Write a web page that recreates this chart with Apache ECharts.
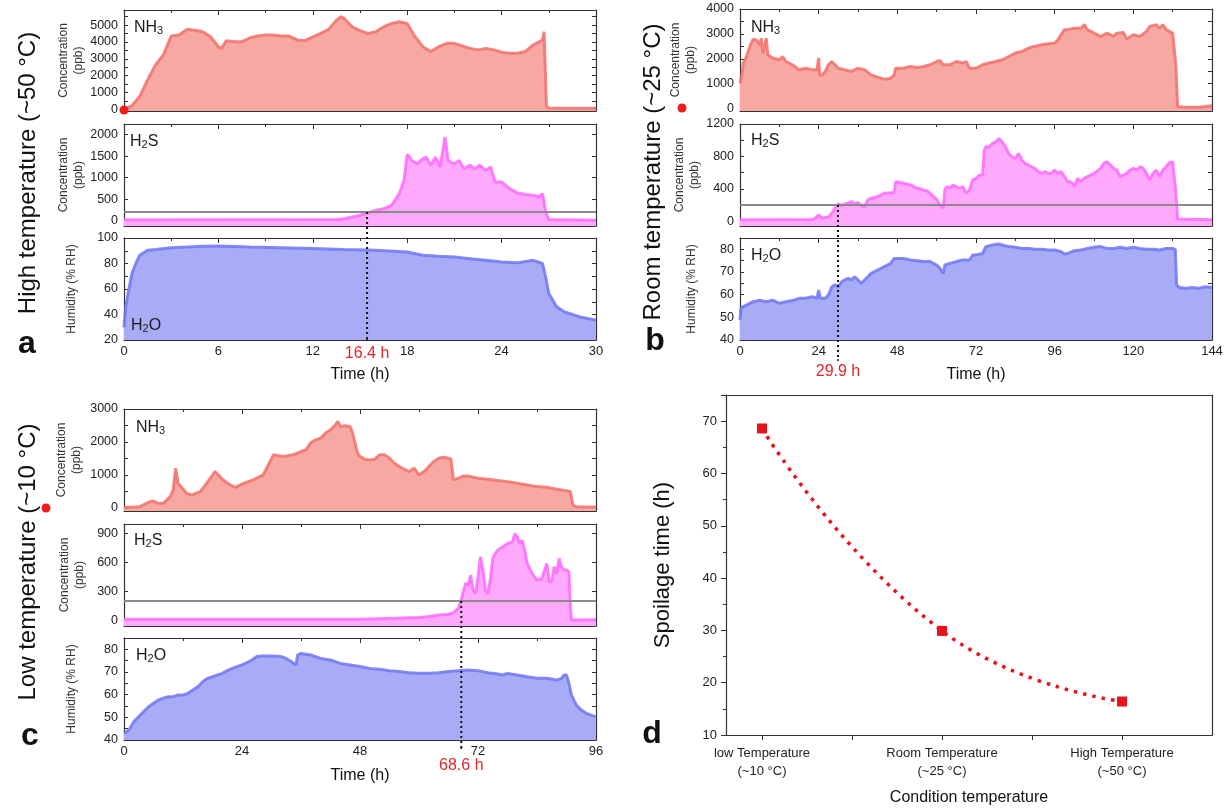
<!DOCTYPE html>
<html>
<head>
<meta charset="utf-8">
<script src="https://cdn.jsdelivr.net/npm/echarts@6/dist/echarts.min.js"></script>
<style>
  html, body { margin: 0; padding: 0; background: #fff; }
  #chart { width: 1228px; height: 810px; }
</style>
</head>
<body>
<div id="chart"></div>
<script>
// ---- a: high temperature, [time h, value] ----
const aNH3 = [[0,0],[0.5,216],[1,770],[1.5,1750],[2,2640],[2.5,3230],[3,4350],[3.5,4410],[4,4750],[4.5,4700],[5,4610],[5.5,4310],[6,3720],[6.2,3620],[6.5,4080],[7,4020],[7.5,4020],[8,4250],[8.5,4350],[9,4410],[9.5,4410],[10,4350],[10.5,4350],[11,4120],[11.5,4080],[12,4310],[12.5,4510],[13,4750],[13.5,5300],[13.8,5500],[14,5400],[14.5,4900],[15,4670],[15.5,4510],[16,4610],[16.5,4900],[17,5100],[17.5,5200],[18,5100],[18.5,4310],[19,3720],[19.5,3430],[20,3720],[20.5,3920],[21,3920],[21.5,3760],[22,3620],[22.5,3530],[23,3620],[23.5,3530],[24,3390],[24.5,3330],[25,3330],[25.5,3430],[26,3820],[26.4,4020],[26.6,4120],[26.7,4610],[26.85,180],[27,80],[28,60],[29,60],[30,70]];
const aH2S = [[0,20],[13.5,25],[14,45],[14.5,85],[15,125],[15.5,180],[16,240],[16.5,280],[17,355],[17.5,630],[17.8,940],[18,1540],[18.3,1400],[18.6,1325],[19,1440],[19.2,1480],[19.5,1290],[19.8,1480],[20.1,1250],[20.4,1945],[20.6,1400],[21,1325],[21.3,1400],[21.6,1210],[22,1290],[22.3,1210],[22.6,1290],[23,1170],[23.3,1250],[23.6,900],[24,900],[24.5,745],[25,645],[25.5,610],[26,590],[26.4,550],[26.6,630],[26.8,200],[27,25],[30,10]];
const aH2O = [[0,30],[0.1,45],[0.25,56],[0.5,72],[0.75,80],[1,86.5],[1.5,90.4],[2,91],[3,92.4],[4,93],[5,93.5],[6,93.7],[8,93],[10,92.4],[12,91.7],[14,91],[16,90.4],[18,89],[19,86.5],[20,85.7],[21,85.1],[22,83.8],[23,82.5],[24,81.2],[25,80.5],[26,82.5],[26.6,80],[26.8,69.5],[27,56.5],[27.5,46],[28,42],[29,38],[30,35.6]];

// ---- b: room temperature ----
const bNH3 = [[0,1020],[0.5,1290],[1,1825],[2,2090],[3,2500],[4,2790],[5,2760],[6,2560],[6.5,2830],[7,2230],[8,2830],[8.5,2160],[10,2030],[12,1960],[13,2090],[14,1890],[16,1760],[18,1560],[20,1620],[22,1560],[23.5,1560],[24,2030],[24.3,1350],[25,1350],[26,1490],[27,1760],[28,1890],[29,1760],[30,1620],[32,1560],[34,1490],[36,1620],[38,1560],[40,1350],[42,1260],[44,1180],[46,1220],[47,1350],[47.5,1620],[50,1620],[52,1690],[54,1650],[56,1690],[58,1760],[60,1890],[61,1930],[62,1760],[64,1760],[66,1890],[68,1830],[69,1890],[70,1620],[72,1620],[74,1760],[76,1830],[78,1890],[80,1960],[82,2090],[84,2230],[86,2290],[88,2430],[90,2500],[92,2560],[94,2600],[96,2630],[97,2760],[98,2970],[99,3170],[100,3170],[102,3230],[104,3230],[105,3370],[106,3170],[108,3030],[110,2900],[112,3030],[114,2900],[115,3030],[117,3060],[118,2790],[120,2970],[122,2900],[124,3100],[125,3300],[127,3370],[128,3230],[129,3370],[130,3170],[131,3100],[132,3030],[132.5,2970],[133,1690],[133.5,80],[136,50],[140,50],[144,110]];
const bH2S = [[0,16],[22,20],[23,37],[24,78],[25,37],[27,50],[28,98],[29,160],[30,213],[31,190],[32,213],[33,222],[34,242],[35,213],[36,230],[37,190],[38,180],[39,262],[40,283],[42,303],[44,344],[46,352],[47,352],[47.5,488],[48,488],[50,467],[52,447],[54,406],[56,385],[57,377],[58,344],[59,303],[60,270],[61,200],[62,160],[62.5,385],[63,426],[64,406],[65,447],[66,426],[67,406],[68,426],[69,344],[70,385],[71,508],[72,529],[73,570],[74,570],[74.5,877],[75,918],[76,918],[77,959],[78,980],[79,1020],[80,980],[81,918],[82,836],[83,795],[84,775],[85,836],[86,754],[87,713],[88,693],[89,672],[90,652],[91,611],[92,590],[93,611],[94,590],[95,590],[96,631],[97,590],[98,611],[99,549],[100,488],[101,488],[102,426],[103,529],[104,488],[105,529],[106,549],[108,590],[110,652],[111,713],[112,734],[113,693],[114,652],[115,631],[116,549],[117,570],[118,590],[119,631],[120,652],[121,631],[122,672],[123,652],[124,590],[125,508],[126,590],[127,631],[128,549],[129,631],[130,672],[131,722],[132,734],[132.5,713],[133,344],[133.5,25],[144,16]];
const bH2O = [[0,48.8],[0.3,54],[1,54.7],[2,55.4],[4,56.9],[6,57.5],[8,56.9],[10,57.6],[12,56.2],[14,56.9],[16,57.4],[18,58.4],[20,58.4],[22,59.1],[23.5,58.4],[24,62],[24.5,58.4],[26,58.4],[27,59.9],[28,63.5],[29,64.3],[30,63.5],[31,65.7],[32,66.5],[33,67.2],[34,66.5],[35,67.9],[36,66.5],[37,65],[38,66.5],[39,67.9],[40,69.4],[42,70.9],[44,72.4],[46,73.8],[47,76],[50,76],[52,75.3],[54,75],[56,74.6],[58,74.6],[60,73.1],[61,71.6],[62,69.4],[62.5,73.1],[64,73.8],[66,74.6],[68,75.3],[70,75.3],[71,77.5],[72,77.5],[74,78.2],[75,81.2],[77,81.9],[79,82.4],[80,81.9],[82,81.2],[84,80.9],[86,80.4],[88,80.4],[90,80],[92,80],[94,79.7],[96,79.7],[98,79],[99,77.9],[100,78.2],[102,79.4],[104,79.7],[106,80.4],[108,80.9],[110,81.2],[112,80.4],[114,80.4],[116,80.9],[118,80.4],[120,80.9],[122,80.4],[124,80],[126,80],[128,79.7],[130,80.4],[132,80.4],[132.8,80],[133.2,64.3],[134,63.2],[136,62.8],[138,63.2],[140,62.8],[142,63.5],[144,63.2]];

// ---- c: low temperature ----
const cNH3 = [[0,10],[3.2,30],[5.3,183],[6,203],[7,132],[8,132],[9.4,336],[10,539],[10.5,1200],[11,742],[12.7,437],[13.8,386],[15.5,488],[16.8,742],[18.5,1098],[18.8,1150],[20.2,844],[21.6,692],[22.6,620],[24.3,742],[26.3,844],[28.3,997],[29,1200],[30.4,1607],[32.4,1556],[34.4,1607],[36,1708],[37,1760],[38,1983],[39,2064],[40,2115],[41,2268],[42,2370],[43,2522],[43.5,2624],[44,2471],[45,2492],[46,2471],[46.5,2268],[47,1963],[47.5,1658],[48,1556],[49,1475],[50,1454],[51,1475],[52,1607],[53,1607],[54,1505],[55,1353],[56,1251],[57,1170],[58,1098],[59,1200],[60,997],[61,1098],[62,1251],[63,1403],[64,1505],[65,1536],[66,1505],[66.5,1475],[67,844],[68,895],[69,966],[70,966],[72,895],[74,864],[76,824],[78,793],[80,742],[82,692],[84,641],[86,620],[88,559],[90,519],[90.8,488],[91.3,81],[92,30],[96,20]];
const cH2S = [[0,10],[48,10],[50,14],[55,21],[60,28],[62,38],[64,55],[66,62],[67,79],[68,124],[68.6,210],[69,297],[69.5,383],[70,366],[70.5,469],[71,314],[71.5,279],[72,452],[72.5,659],[73,521],[73.5,314],[74,279],[74.5,417],[75,642],[75.5,693],[76,728],[77,762],[78,797],[79,814],[79.5,900],[80,866],[80.5,797],[81,831],[81.5,728],[82,590],[83,486],[84,417],[85,435],[86,590],[86.5,400],[87,400],[87.5,555],[88,486],[88.5,642],[89,555],[89.5,521],[90,521],[90.5,504],[90.8,141],[91,3],[96,5]];
const cH2O = [[0,43],[1,44.4],[2,48.1],[3,50.3],[4,52.5],[5,54.7],[6,56.2],[7,57.7],[8,58.4],[9,59.1],[10,59.1],[11,59.9],[12,59.9],[13,60.6],[14,62.1],[15,63.5],[16,65.7],[17,67.2],[18,67.9],[19,68.7],[20,69.4],[21,70.6],[22,71.6],[23,72.4],[24,73.1],[25,74.1],[26,75.3],[27,76.8],[28,77.1],[30,77.1],[32,76.8],[33,76],[34,74.6],[35,73.1],[35.3,77.5],[36,78.2],[38,77.5],[39,76.8],[40,76],[42,75.3],[44,73.8],[46,73.1],[48,72.4],[50,71.6],[52,71.2],[54,70.6],[56,70.2],[58,69.7],[60,69.4],[62,69.4],[64,69.7],[66,70.2],[68,70.6],[70,70.9],[72,70.6],[74,69.7],[76,69.1],[77,68.7],[78,69.4],[80,68.7],[82,67.9],[84,67.2],[86,67.2],[88,66.5],[89,67.2],[89.5,68.7],[90,68.7],[90.5,65],[91,59.9],[92,55.4],[93,53.2],[94,51.8],[95,51],[96,50.3]];

// ---- d: spoilage time ----
const dCats = ['low Temperature\n(~10 °C)', 'Room Temperature\n(~25 °C)', 'High Temperature\n(~50 °C)'];
const dPos = [1, 2, 3];
const dSpoil = [68.6, 29.9, 16.4];

// tick labels / tick positions
const aNH3Labels = [0,1000,2000,3000,4000,5000];
const aNH3Ticks = [0,500,1000,1500,2000,2500,3000,3500,4000,4500,5000,5500];
const aH2SLabels = [0,500,1000,1500,2000];
const aH2OLabels = [20,40,60,80,100];
const aH2OTicks = [20,30,40,50,60,70,80,90,100];
const bNH3Labels = [0,1000,2000,3000,4000];
const bNH3Ticks = [0,500,1000,1500,2000,2500,3000,3500,4000];
const bH2SLabels = [0,400,800,1200];
const bH2STicks = [0,200,400,600,800,1000,1200];
const humLabels = [40,50,60,70,80];
const humTicks = [40,45,50,55,60,65,70,75,80,85];
const cNH3Labels = [0,1000,2000,3000];
const cNH3Ticks = [0,500,1000,1500,2000,2500,3000];
const cH2SLabels = [0,300,600,900];

const THRESHOLD = 200;
const cutA = 15.45, cutB = 29.9, cutC = 68.6;

const FONT = '"Liberation Sans", Arial, sans-serif';
const AX = '#333';
const RED = '#e3262b';
const STYLE = {
  nh3: { line: 'rgba(242,112,106,0.85)', fill: '#f8a8a3' },
  h2s: { line: 'rgba(255,105,255,0.85)', fill: '#ffa9fd' },
  h2o: { line: 'rgba(112,118,242,0.85)', fill: '#a8acf7' }
};

const grid = [], xAxis = [], yAxis = [], series = [], title = [], graphic = [];
const plain = v => String(v);

function addPlot(p) {
  const gi = grid.length;
  grid.push({ left: p.left, top: p.top, width: p.width, height: p.height });
  const line = { onZero: false, lineStyle: { color: AX, width: 1.2 } };
  const tick = { inside: true, length: 5, lineStyle: { color: AX } };
  const xi = xAxis.length;
  const xBase = {
    gridIndex: gi, type: 'value', min: 0, max: p.xMax, interval: p.xStep,
    splitLine: { show: false }, axisLine: line, axisTick: tick,
    minorTick: { show: true, splitNumber: 2, length: 3, lineStyle: { color: AX } }
  };
  xAxis.push(Object.assign({}, xBase, {
    position: 'bottom',
    axisLabel: { show: !!p.showX, color: '#222', fontSize: 13, margin: 5, fontFamily: FONT, formatter: plain },
    name: p.showX ? 'Time (h)' : '', nameLocation: 'middle', nameGap: p.xGap || 27,
    nameTextStyle: { fontSize: 16, color: '#111', fontFamily: FONT }
  }));
  xAxis.push(Object.assign({}, xBase, { position: 'top', axisLabel: { show: false } }));
  const yi = yAxis.length;
  const yBase = {
    gridIndex: gi, type: 'value', min: p.yMin, max: p.yMax, splitLine: { show: false },
    axisLine: { show: true, onZero: false, lineStyle: { color: AX, width: 1.2 } },
    axisTick: { inside: true, length: 4, customValues: p.yTicks || p.yLabels, lineStyle: { color: AX } }
  };
  yAxis.push(Object.assign({}, yBase, {
    position: 'left',
    axisLabel: { customValues: p.yLabels, formatter: plain, color: '#222', fontSize: 12.5, margin: 6, fontFamily: FONT },
    name: p.yName, nameLocation: 'middle', nameGap: p.yGap,
    nameTextStyle: { fontSize: 12, lineHeight: 15, color: '#333', fontFamily: FONT }
  }));
  yAxis.push(Object.assign({}, yBase, { position: 'right', axisLabel: { show: false } }));
  const st = STYLE[p.kind];
  const s = {
    type: 'line', xAxisIndex: xi, yAxisIndex: yi, data: p.data, symbol: 'none',
    lineStyle: { color: st.line, width: 3 },
    areaStyle: { color: st.fill, opacity: 1, origin: 'start' }, z: 2, silent: true
  };
  if (p.kind === 'h2s') {
    s.markLine = {
      silent: true, symbol: ['none', 'none'], label: { show: false },
      lineStyle: { color: '#8a8a8a', width: 2, type: 'solid' },
      data: [{ yAxis: THRESHOLD }]
    };
  }
  series.push(s);
  return { top: p.top, height: p.height, min: p.yMin, max: p.yMax };
}

// vertical dotted cut-off line, drawn in an overlay grid using the H2S scale
function addCutoff(left, width, xMax, h2s, t, text, bottomPx, dist) {
  const h = bottomPx - h2s.top;
  const yMin = h2s.max - h * (h2s.max - h2s.min) / h2s.height;
  const gi = grid.length;
  grid.push({ left: left, top: h2s.top, width: width, height: h });
  xAxis.push({ gridIndex: gi, type: 'value', min: 0, max: xMax, show: false });
  yAxis.push({ gridIndex: gi, type: 'value', min: yMin, max: h2s.max, show: false });
  series.push({
    type: 'line', xAxisIndex: xAxis.length - 1, yAxisIndex: yAxis.length - 1, z: 6, silent: true,
    symbol: 'none', clip: false,
    lineStyle: { color: '#111', width: 2, type: [2, 3] },
    data: [
      [t, THRESHOLD],
      { value: [t, yMin], symbol: 'circle', symbolSize: 2, itemStyle: { color: '#111' },
        label: { show: true, position: 'bottom', distance: dist, formatter: text,
                 color: RED, fontSize: 16, fontFamily: FONT } }
    ]
  });
}

function tag(main, sub, tail, x, y) {
  title.push({
    text: '{b|' + main + '}{s|' + sub + '}' + (tail ? '{b|' + tail + '}' : ''),
    left: x, top: y, padding: 0,
    textStyle: {
      fontWeight: 'normal',
      rich: {
        b: { fontSize: 16, lineHeight: 20, verticalAlign: 'bottom', fontWeight: 'normal', color: '#1a1a1a', fontFamily: FONT },
        s: { fontSize: 11, lineHeight: 8, verticalAlign: 'bottom', fontWeight: 'normal', color: '#1a1a1a', fontFamily: FONT }
      }
    }
  });
}

function sideText(text, x, y, size, bold, rot) {
  graphic.push({
    type: 'text', x: x, y: y, rotation: rot || 0, silent: true,
    style: {
      text: text, fontSize: size, fontFamily: FONT, fontWeight: bold ? 'bold' : 'normal',
      fill: '#111', textAlign: 'center', textVerticalAlign: 'middle', align: 'center', verticalAlign: 'middle'
    }
  });
}

function dot(x, y) {
  graphic.push({ type: 'circle', shape: { cx: x, cy: y, r: 4.5 }, style: { fill: '#ee1c1c' }, silent: true, z: 10 });
}

const conc = 'Concentration\n(ppb)';
const hum = 'Humidity (% RH)';

// panel a
addPlot({ left: 124, width: 472, top: 10, height: 101, xMax: 30, xStep: 6, yMin: -100, yMax: 5900,
  yLabels: aNH3Labels, yTicks: aNH3Ticks, yName: conc, yGap: 37, data: aNH3, kind: 'nh3' });
const aS = addPlot({ left: 124, width: 472, top: 124, height: 102, xMax: 30, xStep: 6, yMin: -125, yMax: 2250,
  yLabels: aH2SLabels, yName: conc, yGap: 37, data: aH2S, kind: 'h2s' });
addPlot({ left: 124, width: 472, top: 238, height: 102, xMax: 30, xStep: 6, yMin: 20, yMax: 100,
  yLabels: aH2OLabels, yTicks: aH2OTicks, yName: hum, yGap: 45, data: aH2O, kind: 'h2o', showX: true, xGap: 27 });
addCutoff(124, 472, 30, aS, cutA, '16.4 h', 340, 5);

// panel b
addPlot({ left: 740, width: 472, top: 9, height: 102, xMax: 144, xStep: 24, yMin: -100, yMax: 4000,
  yLabels: bNH3Labels, yTicks: bNH3Ticks, yName: conc, yGap: 42, data: bNH3, kind: 'nh3' });
const bS = addPlot({ left: 740, width: 472, top: 124, height: 102, xMax: 144, xStep: 24, yMin: -60, yMax: 1200,
  yLabels: bH2SLabels, yTicks: bH2STicks, yName: conc, yGap: 34, data: bH2S, kind: 'h2s' });
addPlot({ left: 740, width: 472, top: 238, height: 102, xMax: 144, xStep: 24, yMin: 40, yMax: 85,
  yLabels: humLabels, yTicks: humTicks, yName: hum, yGap: 41, data: bH2O, kind: 'h2o', showX: true, xGap: 27 });
addCutoff(740, 472, 144, bS, cutB, '29.9 h', 360, 3);

// panel c
addPlot({ left: 124, width: 472, top: 409, height: 102, xMax: 96, xStep: 24, yMin: -100, yMax: 3000,
  yLabels: cNH3Labels, yTicks: cNH3Ticks, yName: conc, yGap: 40, data: cNH3, kind: 'nh3' });
const cS = addPlot({ left: 124, width: 472, top: 524, height: 102, xMax: 96, xStep: 24, yMin: -60, yMax: 1000,
  yLabels: cH2SLabels, yName: conc, yGap: 37, data: cH2S, kind: 'h2s' });
addPlot({ left: 124, width: 472, top: 638, height: 102, xMax: 96, xStep: 24, yMin: 40, yMax: 85,
  yLabels: humLabels, yTicks: humTicks, yName: hum, yGap: 45, data: cH2O, kind: 'h2o', showX: true, xGap: 28 });
addCutoff(124, 472, 96, cS, cutC, '68.6 h', 748, 9);

// panel d
const gd = grid.length;
grid.push({ left: 726, top: 395, width: 486, height: 340 });
const xd = xAxis.length;
xAxis.push({
  gridIndex: gd, type: 'value', min: 0.8, max: 3.5, position: 'bottom', splitLine: { show: false },
  axisLine: { onZero: false, lineStyle: { color: AX, width: 1.2 } },
  axisTick: { inside: false, length: 5, customValues: [1, 1.5, 2, 2.5, 3], lineStyle: { color: AX } },
  axisLabel: { customValues: dPos, formatter: v => dCats[Math.round(v) - 1], color: '#222',
    fontSize: 13, lineHeight: 18, margin: 9, fontFamily: FONT },
  name: 'Condition temperature', nameLocation: 'middle', nameGap: 55,
  nameTextStyle: { fontSize: 16, color: '#111', fontFamily: FONT }
});
xAxis.push({ gridIndex: gd, type: 'value', min: 0.8, max: 3.5, position: 'top',
  axisLine: { onZero: false, lineStyle: { color: AX, width: 1.2 } },
  axisTick: { show: false }, axisLabel: { show: false }, splitLine: { show: false } });
const yd = yAxis.length;
yAxis.push({
  gridIndex: gd, type: 'value', min: 10, max: 75, interval: 10, position: 'left', splitLine: { show: false },
  axisLine: { show: true, onZero: false, lineStyle: { color: AX, width: 1.2 } },
  axisTick: { inside: false, length: 5, lineStyle: { color: AX } },
  minorTick: { show: true, splitNumber: 2, length: 3, lineStyle: { color: AX } },
  axisLabel: { showMaxLabel: false, color: '#222', fontSize: 13, margin: 9, fontFamily: FONT },
  name: 'Spoilage time (h)', nameLocation: 'middle', nameGap: 52,
  nameTextStyle: { fontSize: 22, color: '#111', fontFamily: FONT }
});
yAxis.push({ gridIndex: gd, type: 'value', min: 10, max: 75, position: 'right',
  axisLine: { show: true, onZero: false, lineStyle: { color: AX, width: 1.2 } },
  axisTick: { show: false }, axisLabel: { show: false }, splitLine: { show: false } });
series.push({
  type: 'line', xAxisIndex: xd, yAxisIndex: yd, smooth: true, silent: true,
  data: dPos.map((x, i) => [x, dSpoil[i]]),
  symbol: 'rect', symbolSize: 10, itemStyle: { color: '#e8141c' },
  lineStyle: { color: '#e8141c', width: 3.5, type: [3.5, 6] }, z: 3
});

// inner labels
tag('NH', '3', '', 134, 16);
tag('H', '2', 'S', 130, 130);
tag('H', '2', 'O', 131, 314);
tag('NH', '3', '', 751, 16);
tag('H', '2', 'S', 751, 129);
tag('H', '2', 'O', 751, 244);
tag('NH', '3', '', 136, 416);
tag('H', '2', 'S', 134, 529);
tag('H', '2', 'O', 136, 644);

// side titles and panel letters
sideText('High temperature (~50 °C)', 28, 173, 24, false, Math.PI / 2);
sideText('Room temperature (~25 °C)', 653, 172, 24, false, Math.PI / 2);
sideText('Low temperature (~10 °C)', 28, 562, 24, false, Math.PI / 2);
sideText('a', 27, 344, 32, true);
sideText('b', 655, 341, 32, true);
sideText('c', 30, 736, 32, true);
sideText('d', 652, 734, 32, true);
dot(124, 110);
dot(682, 108);
dot(46, 508);

const chart = echarts.init(document.getElementById('chart'), null, { renderer: 'canvas' });
chart.setOption({
  backgroundColor: '#fff',
  animation: false,
  textStyle: { fontFamily: FONT },
  title: title,
  grid: grid,
  xAxis: xAxis,
  yAxis: yAxis,
  series: series,
  graphic: graphic
});
</script>
</body>
</html>
